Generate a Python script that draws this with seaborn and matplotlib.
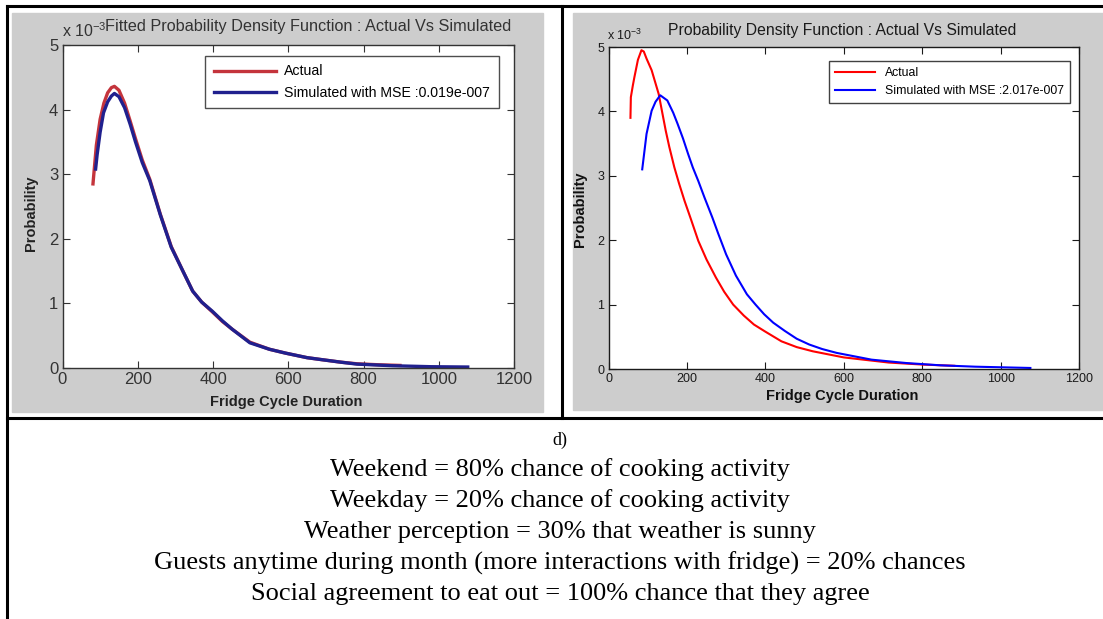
import pandas as pd
import seaborn as sns
import matplotlib.pyplot as plt
from matplotlib.patches import Rectangle
from matplotlib.lines import Line2D

# values (density in units of 1e-3)
left_actual_x = [81, 84, 90, 100, 110, 120, 130, 138, 150, 165, 180, 194, 212, 232, 260, 289,
                 320, 346, 370, 398, 425, 451, 498, 550, 593, 650, 688, 740, 783, 840, 897]
left_actual_y = [2.85, 3.05, 3.45, 3.85, 4.10, 4.26, 4.34, 4.36, 4.30, 4.10, 3.82, 3.55, 3.22,
                 2.92, 2.38, 1.88, 1.50, 1.19, 1.02, 0.87, 0.72, 0.60, 0.40, 0.29, 0.23, 0.16,
                 0.13, 0.09, 0.065, 0.05, 0.04]
left_sim_x = [88, 92, 100, 109, 120, 130, 138, 150, 165, 180, 194, 212, 232, 260, 289, 320,
              346, 370, 398, 425, 451, 498, 550, 593, 650, 688, 740, 783, 877, 980, 1077]
left_sim_y = [3.08, 3.30, 3.65, 3.95, 4.12, 4.21, 4.25, 4.20, 4.03, 3.77, 3.50, 3.18, 2.90,
              2.37, 1.87, 1.50, 1.19, 1.02, 0.88, 0.73, 0.60, 0.39, 0.29, 0.23, 0.16, 0.13,
              0.09, 0.06, 0.035, 0.02, 0.015]

right_actual_x = [56, 57, 62, 66, 75, 84, 90, 97, 110, 128, 146, 155, 168, 180, 194, 210, 229,
                  250, 274, 295, 318, 345, 371, 400, 441, 480, 521, 600, 715, 803, 882]
right_actual_y = [3.90, 4.22, 4.40, 4.53, 4.80, 4.95, 4.93, 4.82, 4.64, 4.27, 3.70, 3.45, 3.13,
                  2.88, 2.61, 2.33, 1.99, 1.70, 1.42, 1.20, 1.00, 0.83, 0.69, 0.58, 0.43, 0.34,
                  0.275, 0.18, 0.10, 0.068, 0.05]
right_sim_x = [86, 97, 110, 120, 132, 150, 165, 176, 190, 203, 215, 229, 245, 265, 280, 300,
               325, 353, 375, 397, 420, 450, 480, 512, 545, 582, 671, 759, 847, 935, 1076]
right_sim_y = [3.10, 3.65, 4.01, 4.15, 4.25, 4.17, 3.98, 3.81, 3.58, 3.34, 3.13, 2.92, 2.66,
               2.35, 2.10, 1.78, 1.45, 1.16, 1.00, 0.85, 0.72, 0.59, 0.47, 0.38, 0.31, 0.25,
               0.145, 0.093, 0.057, 0.036, 0.016]

left_labels = ["Actual", "Simulated with MSE :0.019e-007"]
right_labels = ["Actual", "Simulated with MSE :2.017e-007"]

notes = [
    "Weekend = 80% chance of cooking activity",
    "Weekday = 20% chance of cooking activity",
    "Weather perception = 30% that weather is sunny",
    "Guests anytime during month (more interactions with fridge) = 20% chances",
    "Social agreement to eat out = 100% chance that they agree",
]

W, H = 1103, 619


def fx(x):
    return x / W


def fy(y):
    return 1 - y / H


def make_df(ax_x, ax_y, sx, sy, labels):
    a = pd.DataFrame({"x": ax_x, "y": ax_y, "series": labels[0]})
    s = pd.DataFrame({"x": sx, "y": sy, "series": labels[1]})
    return pd.concat([a, s], ignore_index=True)


def style_axes(ax, fs, col):
    ax.set_xlim(0, 1200)
    ax.set_ylim(0, 5)
    ax.set_xticks(range(0, 1201, 200))
    ax.set_yticks(range(0, 6))
    ax.tick_params(direction="in", length=5, top=True, right=True, labelsize=fs,
                   colors=col, labelcolor=col, pad=3)
    ax.set_xlabel("")
    ax.set_ylabel("")
    ax.set_facecolor("white")
    for sp in ax.spines.values():
        sp.set_visible(True)
        sp.set_color(col)
        sp.set_linewidth(1)


plt.rcParams["font.family"] = ["Liberation Sans", "DejaVu Sans"]
plt.rcParams["mathtext.default"] = "regular"
fig = plt.figure(figsize=(W / 100, H / 100), dpi=100)
fig.patch.set_facecolor("white")

gray = "#cdcdcd"
fig.add_artist(Rectangle((fx(12), fy(412)), fx(543 - 12), (412 - 13) / H,
                         transform=fig.transFigure, color=gray, zorder=-5))
fig.add_artist(Rectangle((fx(573), fy(410)), fx(W - 573), (410 - 13) / H,
                         transform=fig.transFigure, color=gray, zorder=-5))

# table borders
for xs, ys in [([7, W], [6, 6]), ([7, 7], [6, H]), ([562, 562], [6, 418]), ([7, W], [418, 418])]:
    fig.add_artist(Line2D([fx(v) for v in xs], [fy(v) for v in ys],
                          transform=fig.transFigure, color="black", lw=2.2))

# left plot
axl = fig.add_axes([fx(62.5), fy(368), fx(514 - 62.5), (368 - 45) / H])
dl = make_df(left_actual_x, left_actual_y, left_sim_x, left_sim_y, left_labels)
sns.lineplot(data=dl, x="x", y="y", hue="series", palette=["#c4343c", "#20208e"],
             estimator=None, sort=True, linewidth=2.4, ax=axl)
style_axes(axl, 12, "#333333")
legl = axl.legend(loc="upper center", bbox_to_anchor=(0.641, 0.966), borderaxespad=0,
                  fontsize=10.2, frameon=True, fancybox=False, edgecolor="#222222",
                  handlelength=4.4, borderpad=0.6, labelspacing=0.5, handletextpad=0.6)
legl.get_frame().set_linewidth(1)
fig.text(fx(62), fy(31), r"x 10$^{-3}$", fontsize=11.5, color="#333333", va="center", ha="left")
fig.text(fx(105), fy(27), "Fitted Probability Density Function : Actual Vs Simulated",
         fontsize=11.7, color="#333333", va="center", ha="left")
fig.text(fx(31), fy(213), "Probability", rotation=90, fontsize=10.5, fontweight="bold",
         va="center", ha="center", color="#222222")
fig.text(fx(286), fy(402), "Fridge Cycle Duration", fontsize=10.5, fontweight="bold",
         va="center", ha="center", color="#222222")

# right plot
axr = fig.add_axes([fx(608.5), fy(369), fx(1079 - 608.5), (369 - 47) / H])
dr = make_df(right_actual_x, right_actual_y, right_sim_x, right_sim_y, right_labels)
sns.lineplot(data=dr, x="x", y="y", hue="series", palette=["#ff0000", "#0000ff"],
             estimator=None, sort=True, linewidth=1.5, ax=axr)
style_axes(axr, 9, "#1a1a1a")
legr = axr.legend(loc="upper right", bbox_to_anchor=(0.98, 0.955), borderaxespad=0,
                  fontsize=8.8, frameon=True, fancybox=False, edgecolor="#111111",
                  handlelength=3.3, borderpad=0.45, labelspacing=0.5)
legr.get_frame().set_linewidth(1)
fig.text(fx(607), fy(35), r"x 10$^{-3}$", fontsize=9, color="#1a1a1a", va="center", ha="left")
fig.text(fx(842), fy(31), "Probability Density Function : Actual Vs Simulated",
         fontsize=11.35, color="#1a1a1a", va="center", ha="center")
fig.text(fx(580), fy(209), "Probability", rotation=90, fontsize=10.5, fontweight="bold",
         va="center", ha="center", color="#111111")
fig.text(fx(842), fy(396), "Fridge Cycle Duration", fontsize=10.5, fontweight="bold",
         va="center", ha="center", color="#111111")

# caption
serif = ["Liberation Serif", "DejaVu Serif"]
fig.text(fx(560), fy(440), "d)", fontsize=13, family=serif, ha="center", va="center")
for i, line in enumerate(notes):
    fig.text(fx(560), fy(470 + 31 * i), line, fontsize=19, family=serif, ha="center", va="center")

fig.savefig("out.png", dpi=100)
